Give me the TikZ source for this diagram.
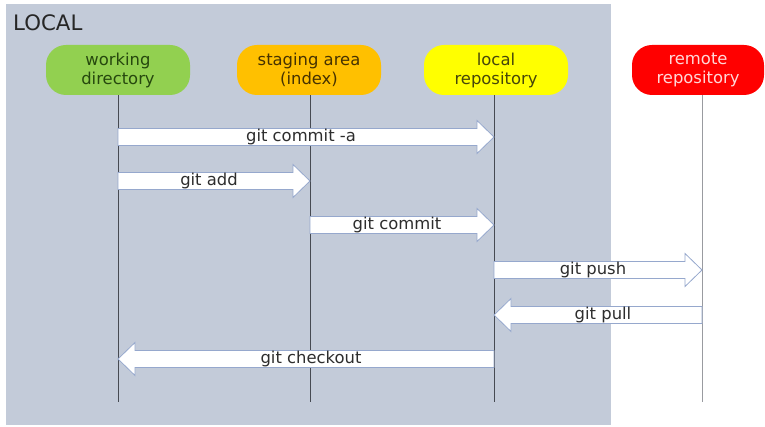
\documentclass[tikz,border=0pt]{standalone}
\usepackage{fontspec}
\setmainfont{DejaVu Sans}
\usetikzlibrary{calc}

\definecolor{localbg}{RGB}{195,203,217}
\definecolor{wdfill}{RGB}{146,208,80}
\definecolor{wdtext}{RGB}{38,72,14}
\definecolor{safill}{RGB}{255,192,0}
\definecolor{satext}{RGB}{70,50,0}
\definecolor{lrfill}{RGB}{255,255,0}
\definecolor{lrtext}{RGB}{70,70,10}
\definecolor{rrfill}{RGB}{255,0,0}
\definecolor{rrtext}{RGB}{255,215,215}
\definecolor{lifecol}{RGB}{70,74,82}
\definecolor{arrowedge}{RGB}{150,168,205}
\definecolor{cmdtext}{RGB}{45,45,45}

\newcommand\labelfont{\fontsize{16.4}{19}\selectfont}

\tikzset{
  stage/.style={rectangle, rounded corners=20pt, minimum width=144pt,
    minimum height=50pt, inner sep=0pt, align=center, font=\labelfont,
    execute at begin node={\rule{0pt}{16.5pt}}},
  lifeline/.style={draw=lifecol, line width=0.8pt},
  blockarrow/.style={draw=arrowedge, fill=white, line width=0.8pt, line join=miter},
  cmdlabel/.style={font=\labelfont, text=cmdtext, anchor=base, inner sep=0pt},
}

% block arrow from lifeline #1 to lifeline #2 at height #3, labelled #4
\newcommand\gitarrow[4]{%
  \path[blockarrow] let \p1=(#1), \p2=(#2), \p3=(0,#3), \n1={sign(\x2-\x1)} in
    (\x1,\y3+8.5pt) -- ({\x2-\n1*17pt},\y3+8.5pt) -- ({\x2-\n1*17pt},\y3+16.5pt)
    -- (\x2,\y3) -- ({\x2-\n1*17pt},\y3-16.5pt) -- ({\x2-\n1*17pt},\y3-8.5pt)
    -- (\x1,\y3-8.5pt) -- cycle
    node[cmdlabel] at ({(\x1+\x2)/2-\n1*5pt},\y3-4.5pt) {#4};
}

\begin{document}
\begin{tikzpicture}[x=1pt,y=-1pt]
  \useasboundingbox (0,0) rectangle (765,427);

  % local area
  \fill[localbg] (6,4) rectangle (611,425);
  \node[anchor=base west, inner sep=0pt, font=\fontsize{21.3}{24}\selectfont, text=black!85]
    (localtitle) at (13,31) {LOCAL};

  % stages
  \node[stage, fill=wdfill, text=wdtext] (wd) at (118,70) {working\\directory};
  \node[stage, fill=safill, text=satext] (sa) at (309,70) {staging area\\(index)};
  \node[stage, fill=lrfill, text=lrtext] (lr) at (496,70) {local\\repository};
  \node[stage, fill=rrfill, text=rrtext, minimum width=132pt] (rr) at (698,70) {remote\\repository};

  % lifelines
  \coordinate (wdL) at (wd.south);
  \coordinate (saL) at ([xshift=1pt]sa.south);
  \coordinate (lrL) at ([xshift=-2pt]lr.south);
  \coordinate (rrL) at ([xshift=4pt]rr.south);
  \coordinate (wdE) at (wdL |- 0,402);
  \coordinate (saE) at (saL |- 0,402);
  \coordinate (lrE) at (lrL |- 0,402);
  \coordinate (rrE) at (rrL |- 0,402);
  \draw[lifeline] (wdL) -- (wdE);
  \draw[lifeline] (saL) -- (saE);
  \draw[lifeline] (lrL) -- (lrE);
  \draw[lifeline, draw=lifecol!55] (rrL) -- (rrE);

  % commands
  \gitarrow{wdL}{lrL}{137}{git commit -a}
  \gitarrow{wdL}{saL}{181}{git add}
  \gitarrow{saL}{lrL}{225}{git commit}
  \gitarrow{lrL}{rrL}{270}{git push}
  \gitarrow{rrL}{lrL}{315}{git pull}
  \gitarrow{lrL}{wdL}{359}{git checkout}
\end{tikzpicture}
\end{document}
